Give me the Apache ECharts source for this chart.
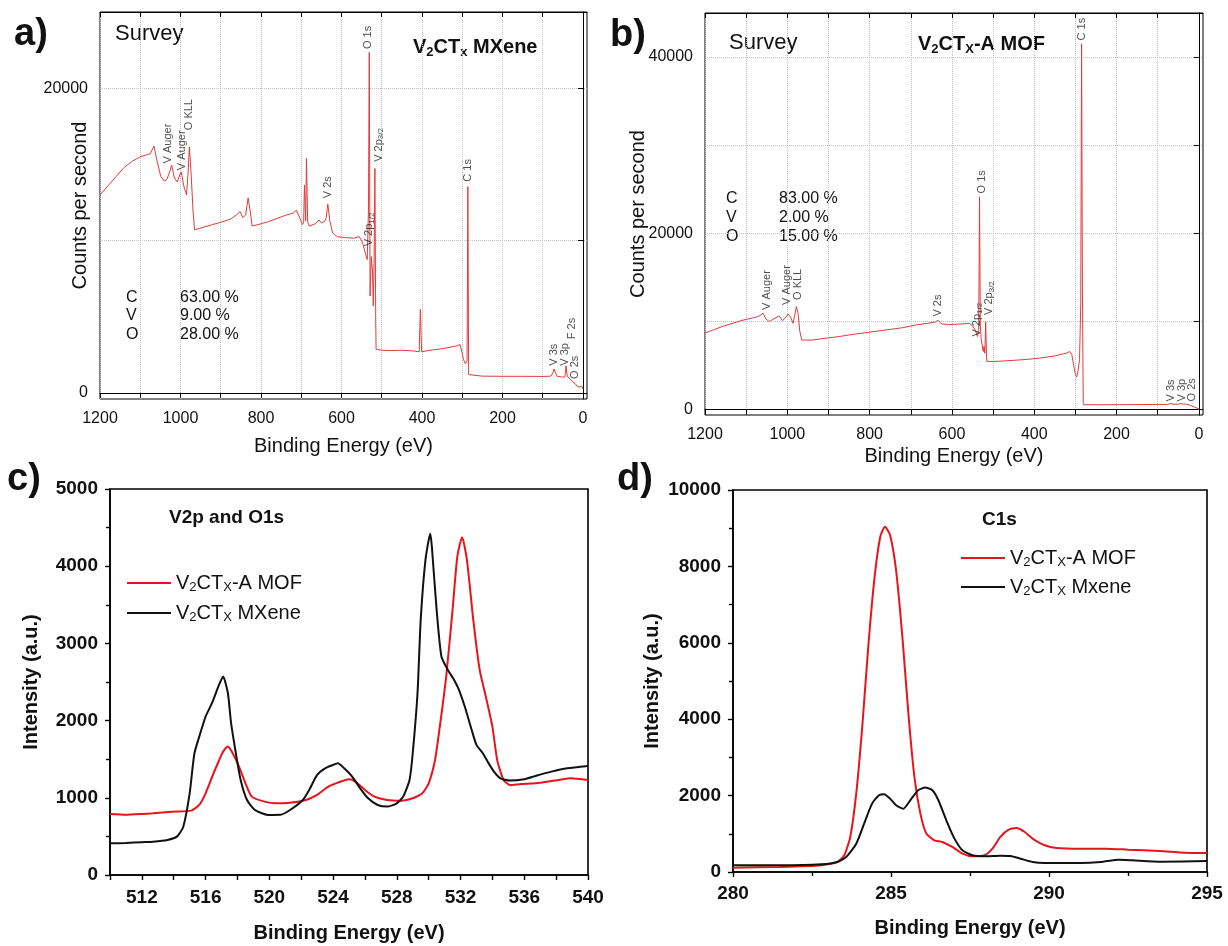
<!DOCTYPE html>
<html>
<head>
<meta charset="utf-8">
<script src="https://cdn.jsdelivr.net/npm/echarts@6/dist/echarts.min.js"></script>
<style>
  html, body { margin: 0; padding: 0; background: #fff; }
  #chart { width: 1228px; height: 946px; }
</style>
</head>
<body>
<div id="chart"></div>
<script>
// ---- survey spectra: [binding energy (eV), counts per second] ----
const surveyMXene = [
  [1200,13000],[1180,13600],[1160,14200],[1140,14800],[1120,15200],[1100,15500],[1087,15600],[1075,15700],
  [1066,16200],[1058,15200],[1049,14200],[1040,13900],[1034,14000],[1027,14500],[1022,14950],[1015,14100],
  [1008,13850],[1002,14300],[998,14500],[992,13600],[985,13000],[981,14500],[978,16150],[974,14600],
  [969,12000],[965,10700],[940,10900],[920,11050],[900,11200],[876,11400],[860,11700],[852,11900],
  [845,11500],[838,11700],[832,12800],[826,11800],[822,10950],[800,11100],[781,11250],[760,11450],
  [740,11650],[720,11800],[712,12000],[704,11500],[697,11050],[694,11200],[692,13650],[689,11300],
  [687,15400],[684,11200],[680,10950],[665,11100],[656,11350],[650,11150],[642,11250],[638,11500],
  [634,12400],[629,11300],[622,10500],[610,10250],[590,10200],[570,10150],[556,10250],[550,10000],
  [546,9700],[540,9100],[536,8750],[533,12000],[531,22350],[530,15000],[529,6350],[526,8950],
  [523,8000],[521,5700],[519,8500],[517,14730],[515,5000],[514,2870],[500,2800],[480,2780],
  [450,2800],[420,2750],[407,2700],[404,5480],[401,2700],[398,2650],[380,2800],[350,2900],
  [320,3050],[311,3100],[306,3200],[300,2600],[297,2200],[292,1900],[288,2100],[286,13540],
  [284,1200],[283,1130],[250,1100],[200,1090],[150,1090],[100,1080],[80,1100],[75,1300],
  [72,1570],[68,1300],[64,1080],[50,1040],[45,1050],[42,1780],[39,1100],[35,1000],[30,850],
  [25,700],[22,800],[19,600],[15,450],[10,370],[6,300],[3,450],[0,250]
];
const surveyMOF = [
  [1200,8700],[1180,9050],[1160,9400],[1140,9700],[1120,10000],[1100,10250],[1080,10450],[1069,10600],
  [1059,10950],[1052,10300],[1044,10000],[1035,10250],[1025,10500],[1020,10650],[1012,10100],[1005,10400],
  [998,10850],[992,10500],[986,9800],[982,10700],[978,11700],[974,11000],[970,9000],[965,7900],
  [962,7735],[940,7900],[900,8150],[874,8300],[840,8550],[800,8800],[760,9050],[720,9300],
  [689,9600],[660,9800],[640,9950],[634,10150],[631,10250],[626,9750],[610,9650],[590,9700],
  [570,9750],[558,9800],[550,9500],[543,9000],[538,8300],[535,9000],[533,24150],[531,9500],
  [529,8000],[524,6600],[522,7200],[520,6400],[518,10000],[516,6000],[515,5470],[500,5480],
  [485,5500],[450,5600],[420,5700],[387,5850],[350,6100],[320,6450],[314,6600],[309,6300],
  [304,5000],[300,4000],[297,3700],[294,4300],[290,5660],[287,12000],[285,41500],[283,14000],
  [281,800],[280,566],[240,560],[193,570],[150,580],[100,600],[76,600],[70,700],[66,760],
  [60,620],[50,620],[45,700],[42,900],[38,640],[30,620],[20,480],[10,300],[5,180],[0,80]
];

// ---- peak assignments: [energy, counts at start of label, text] ----
const peakLabelsMXene = [
  [1030,15060,'V Auger'],[996,14620,'V Auger'],[979,17240,'O KLL'],[634,12780,'V 2s'],
  [534,22570,'O 1s'],[532,9620,'V 2p{s|1/2}'],[508,15170,'V 2p{s|3/2}'],[286,13860,'C 1s'],
  [72,1785,'V 3s'],[45,1785,'V 3p'],[27,3525,'F 2s'],[21,914,'O 2s']
];
const peakLabelsMOF = [
  [1049,11320,'V Auger'],[1002,11890,'V Auger'],[975,12450,'O KLL'],[633,10570,'V 2s'],
  [528,24530,'O 1s'],[538,8300,'V 2p{s|1/2}'],[509,10750,'V 2p{s|3/2}'],[285,41890,'C 1s'],
  [68,943,'V 3s'],[42,943,'V 3p'],[17,943,'O 2s']
];

// ---- high-resolution V2p / O1s: [energy, intensity] ----
const v2pMXene = [
  [510.0,410],[511.0,415],[512.0,425],[512.7,432],[513.6,454],[514.2,497],[514.6,626],[515.0,1058],
  [515.3,1577],[515.7,1858],[516.0,2052],[516.4,2225],[516.8,2441],[517.1,2570],[517.4,2354],[517.6,1966],
  [517.9,1577],[518.2,1231],[518.6,972],[519.1,842],[519.9,778],[520.7,780],[521.3,842],[522.1,972],
  [522.5,1102],[523.0,1296],[523.5,1382],[524.0,1426],[524.3,1447],[524.7,1382],[525.2,1274],[525.7,1123],
  [526.2,994],[526.8,907],[527.4,886],[528.0,929],[528.4,1015],[528.8,1231],[529.0,1577],[529.3,2354],
  [529.5,3305],[529.8,4082],[530.1,4419],[530.2,4255],[530.5,3434],[530.8,2830],[531.2,2657],[531.6,2527],
  [531.9,2398],[532.3,2160],[532.7,1879],[533.0,1685],[533.4,1577],[533.7,1469],[534.1,1339],[534.5,1253],
  [535.1,1223],[536.0,1240],[536.7,1283],[537.7,1339],[538.7,1382],[540.0,1413]
];
const v2pMOF = [
  [510.0,790],[511.0,780],[512.0,790],[512.7,800],[513.9,820],[515.1,834],[515.6,907],[516.0,1058],
  [516.5,1318],[516.9,1512],[517.1,1598],[517.4,1663],[517.7,1577],[518.1,1404],[518.5,1188],[518.9,1015],
  [519.7,950],[520.4,929],[521.3,937],[522.3,972],[523.0,1037],[523.7,1145],[524.3,1197],[525.0,1240],
  [525.4,1210],[526.0,1102],[526.6,1015],[527.4,972],[528.3,963],[529.0,994],[529.6,1058],[530.0,1188],
  [530.4,1490],[530.7,1922],[531.1,2570],[531.5,3434],[531.8,4126],[532.1,4376],[532.4,4082],[532.8,3305],
  [533.2,2657],[533.6,2300],[534.0,1922],[534.3,1490],[534.7,1231],[535.1,1166],[535.8,1179],[536.7,1188],
  [537.9,1223],[538.9,1253],[540.0,1231]
];

// ---- high-resolution C1s: [energy, intensity] ----
const c1sMOF = [
  [280.0,113],[281.5,131],[282.8,175],[283.3,262],[283.52,437],[283.71,917],[283.90,2052],[284.09,3800],
  [284.28,5895],[284.47,7642],[284.66,8778],[284.81,9040],[284.97,8821],[285.16,7904],[285.36,6157],
  [285.55,4149],[285.74,2489],[285.93,1528],[286.12,1004],[286.37,830],[286.62,786],[286.94,655],
  [287.26,480],[287.58,410],[287.96,437],[288.21,611],[288.46,917],[288.72,1109],[288.97,1153],
  [289.23,1048],[289.48,873],[289.86,699],[290.24,629],[291.0,611],[291.8,611],[292.5,585],
  [293.5,550],[294.3,507],[295.0,498]
];
const c1sMXene = [
  [280.0,175],[281.5,175],[282.8,201],[283.3,262],[283.58,393],[283.90,742],[284.15,1266],[284.40,1790],
  [284.62,2009],[284.78,2035],[284.97,1921],[285.16,1747],[285.39,1659],[285.61,1878],[285.86,2140],
  [286.08,2210],[286.31,2140],[286.50,1878],[286.75,1354],[287.01,873],[287.26,568],[287.58,437],
  [287.96,410],[288.46,428],[288.78,419],[289.10,349],[289.48,262],[289.86,236],[291.0,236],
  [291.64,262],[292.21,323],[292.65,306],[293.54,271],[295.0,288]
];

// ---- tick values for the survey panels ----
const surveyTicks = [0,100,200,300,400,500,600,700,800,900,1000,1100,1200];
const surveyTickLabels = [0,200,400,600,800,1000,1200];
const mxeneCountTicks = [0,10000,20000];
const mxeneCountLabels = [0,20000];
const mofCountTicks = [0,10000,20000,30000,40000];
const mofCountLabels = [0,20000,40000];

// ---- element composition tables ----
const elements = ['C','V','O'];
const compMXene = ['63.00 %','9.00 %','28.00 %'];
const compMOF = ['83.00 %','2.00 %','15.00 %'];

const FONT = '"Liberation Sans", Arial, sans-serif';
const INK = '#111';
const SURVEY_RED = '#e03c3c';
const RED = '#e8141c';
const BLACK = '#111111';

const plain = (v) => String(v);
const subRich = (size, weight) => ({ s: { fontSize: size, lineHeight: size, verticalAlign: 'bottom', fontFamily: FONT, fontWeight: weight || 'normal' } });

function surveyXAxes(gridIndex, nameGap) {
  return [
    {
      gridIndex, type: 'value', inverse: true, min: -10, max: 1200,
      axisLine: { show: true, lineStyle: { color: '#000', width: 1 } },
      axisTick: { show: true, customValues: surveyTicks, length: 5, inside: false, lineStyle: { color: '#000' } },
      axisLabel: { customValues: surveyTickLabels, formatter: plain, fontSize: 16, color: INK, margin: 12, fontFamily: FONT },
      splitLine: { show: true, lineStyle: { type: 'dotted', color: '#c2c2c2', width: 1 } },
      name: 'Binding Energy (eV)', nameLocation: 'middle', nameGap, nameMoveOverlap: false,
      nameTextStyle: { fontSize: 20, color: INK, fontFamily: FONT }
    },
    {
      gridIndex, type: 'value', inverse: true, min: -10, max: 1200, position: 'top',
      axisLine: { show: true, lineStyle: { color: '#000', width: 1 } },
      axisTick: { show: true, customValues: surveyTicks, length: 5, inside: true, lineStyle: { color: '#000' } },
      axisLabel: { show: false },
      splitLine: { show: false }
    }
  ];
}

function surveyYAxis(gridIndex, min, max, ticks, labels, nameGap) {
  return {
    gridIndex, type: 'value', min, max,
    axisLine: { show: true, lineStyle: { color: '#000', width: 1 } },
    axisTick: { show: true, customValues: ticks, length: 5, lineStyle: { color: '#000' } },
    axisLabel: { customValues: labels, formatter: plain, fontSize: 16, color: INK, margin: 12, fontFamily: FONT },
    splitLine: { show: true, lineStyle: { type: 'dotted', color: '#c2c2c2', width: 1 } },
    name: 'Counts per second', nameLocation: 'middle', nameGap, nameMoveOverlap: false,
    nameTextStyle: { fontSize: 20, color: INK, fontFamily: FONT }
  };
}

function detailXAxis(gridIndex, min, max, interval, labelFilter, nameGap, margin) {
  return {
    gridIndex, type: 'value', min, max, interval,
    axisLine: { show: true, lineStyle: { color: '#000', width: 1.6 } },
    axisTick: { show: true, length: 5, lineStyle: { color: '#000', width: 1.4 } },
    minorTick: { show: !labelFilter, splitNumber: 2, length: 4, lineStyle: { color: '#000', width: 1.4 } },
    axisLabel: {
      fontSize: 19, fontWeight: 'bold', color: INK, margin, fontFamily: FONT,
      formatter: labelFilter ? (v) => (labelFilter(v) ? String(v) : '') : plain
    },
    splitLine: { show: false },
    name: 'Binding Energy (eV)', nameLocation: 'middle', nameGap, nameMoveOverlap: false,
    nameTextStyle: { fontSize: 20, fontWeight: 'bold', color: INK, fontFamily: FONT }
  };
}

function detailYAxis(gridIndex, max, interval, nameGap) {
  return {
    gridIndex, type: 'value', min: 0, max, interval,
    axisLine: { show: true, lineStyle: { color: '#000', width: 1.6 } },
    axisTick: { show: true, length: 5, lineStyle: { color: '#000', width: 1.4 } },
    minorTick: { show: true, splitNumber: 2, length: 4, lineStyle: { color: '#000', width: 1.4 } },
    axisLabel: { formatter: plain, fontSize: 19, fontWeight: 'bold', color: INK, margin: 12, fontFamily: FONT },
    splitLine: { show: false },
    name: 'Intensity (a.u.)', nameLocation: 'middle', nameGap, nameMoveOverlap: false,
    nameTextStyle: { fontSize: 20, fontWeight: 'bold', color: INK, fontFamily: FONT }
  };
}

function spectrum(name, data, xAxisIndex, yAxisIndex, color, width, smooth) {
  return {
    name, type: 'line', data, xAxisIndex, yAxisIndex,
    symbol: 'none', color, itemStyle: { color }, lineStyle: { color, width },
    smooth: smooth || false,
    animation: false, z: 3
  };
}

function peakLabels(list, xAxisIndex, yAxisIndex) {
  return {
    type: 'scatter', xAxisIndex, yAxisIndex, silent: true, animation: false, z: 4,
    symbolSize: 1, itemStyle: { color: 'rgba(0,0,0,0)' },
    data: list.map(([e, c, t]) => ({ value: [e, c], name: t })),
    label: {
      show: true, formatter: (p) => p.name, rotate: 90, position: 'inside',
      align: 'left', verticalAlign: 'middle', fontSize: 11, lineHeight: 13,
      color: '#222', fontFamily: FONT, rich: subRich(8)
    }
  };
}

const legendNames = {
  'MOF V2p/O1s': 'V{s|2}CT{s|X}-A MOF',
  'MXene V2p/O1s': 'V{s|2}CT{s|X} MXene',
  'MOF C1s': 'V{s|2}CT{s|X}-A MOF',
  'MXene C1s': 'V{s|2}CT{s|X} Mxene'
};
function legendAt(left, top, data, gap) {
  return {
    orient: 'vertical', left, top, data, icon: 'rect', itemWidth: 44, itemHeight: 2, itemGap: gap,
    selectedMode: false, formatter: (n) => legendNames[n],
    textStyle: { fontSize: 20, color: INK, fontFamily: FONT, lineHeight: 22, rich: subRich(13) }
  };
}

function txt(x, y, text, size, weight, extra) {
  return {
    type: 'text', x, y, silent: true,
    style: Object.assign({
      text, fontSize: size, fontWeight: weight || 'normal', fontFamily: FONT, fill: INK,
      align: 'left', verticalAlign: 'middle'
    }, extra || {})
  };
}

const chart = echarts.init(document.getElementById('chart'), null, { renderer: 'canvas' });

const surveyBox = { show: true, borderColor: '#000', borderWidth: 1, containLabel: false };
const detailBox = { show: true, borderColor: '#000', borderWidth: 1.6, containLabel: false };
const titleSub = { lineHeight: 24, rich: subRich(13, 'bold') };

const option = {
  backgroundColor: '#fff',
  animation: false,
  grid: [
    Object.assign({ left: 100, top: 12, width: 487, height: 387 }, surveyBox),
    Object.assign({ left: 705, top: 13, width: 498, height: 402 }, surveyBox),
    Object.assign({ left: 110, top: 489, width: 478, height: 386 }, detailBox),
    Object.assign({ left: 733, top: 490, width: 474, height: 382 }, detailBox)
  ],
  xAxis: [
    ...surveyXAxes(0, 37),
    ...surveyXAxes(1, 31),
    detailXAxis(2, 510, 540, 2, (v) => (v - 512) % 4 === 0, 48, 13),
    detailXAxis(3, 280, 295, 5, null, 46, 12)
  ],
  yAxis: [
    surveyYAxis(0, -400, 25000, mxeneCountTicks, mxeneCountLabels, 10),
    surveyYAxis(1, -600, 45000, mofCountTicks, mofCountLabels, 57),
    detailYAxis(2, 5000, 1000, 69),
    detailYAxis(3, 10000, 2000, 71)
  ],
  legend: [
    legendAt(122, 567, ['MOF V2p/O1s', 'MXene V2p/O1s'], 8),
    legendAt(956, 542, ['MOF C1s', 'MXene C1s'], 7)
  ],
  series: [
    spectrum('MXene survey', surveyMXene, 0, 0, SURVEY_RED, 1),
    peakLabels(peakLabelsMXene, 0, 0),
    spectrum('MOF survey', surveyMOF, 2, 1, SURVEY_RED, 1),
    peakLabels(peakLabelsMOF, 2, 1),
    spectrum('MOF V2p/O1s', v2pMOF, 4, 2, RED, 2, 0.2),
    spectrum('MXene V2p/O1s', v2pMXene, 4, 2, BLACK, 2, 0.2),
    spectrum('MOF C1s', c1sMOF, 5, 3, RED, 2, 0.2),
    spectrum('MXene C1s', c1sMXene, 5, 3, BLACK, 2, 0.2)
  ],
  graphic: {
    elements: [
      txt(14, 35, 'a)', 38, 'bold'),
      txt(610, 36, 'b)', 38, 'bold'),
      txt(7, 480, 'c)', 38, 'bold'),
      txt(617, 480, 'd)', 38, 'bold'),
      txt(115, 34, 'Survey', 22),
      txt(729, 43, 'Survey', 22),
      txt(413, 47, 'V{s|2}CT{s|x} MXene', 20, 'bold', titleSub),
      txt(918, 44, 'V{s|2}CT{s|X}-A MOF', 20, 'bold', titleSub),
      txt(126, 288, elements.join('\n'), 16, 'normal', { verticalAlign: 'top', lineHeight: 18.5 }),
      txt(180, 288, compMXene.join('\n'), 16, 'normal', { verticalAlign: 'top', lineHeight: 18.5 }),
      txt(726, 189, elements.join('\n'), 16, 'normal', { verticalAlign: 'top', lineHeight: 19 }),
      txt(779, 189, compMOF.join('\n'), 16, 'normal', { verticalAlign: 'top', lineHeight: 19 }),
      txt(169, 518, 'V2p and O1s', 19, 'bold'),
      txt(982, 520, 'C1s', 19, 'bold')
    ]
  }
};

chart.setOption(option);
</script>
</body>
</html>
